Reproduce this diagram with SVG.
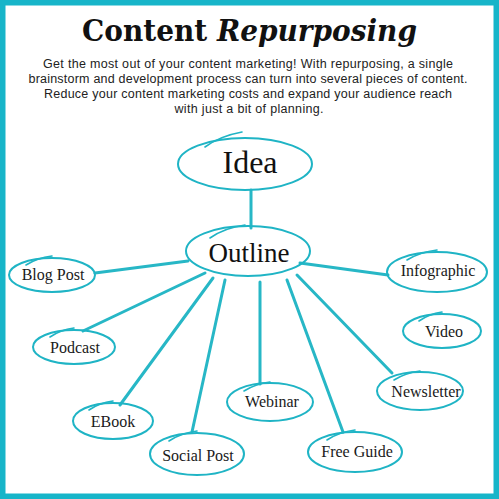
<svg xmlns="http://www.w3.org/2000/svg" width="499" height="499" viewBox="0 0 499 499">
<style>
.frame{fill:#fff;stroke:#17b5c9;stroke-width:11}
.title{font-family:"DejaVu Serif",serif;font-weight:bold;font-size:29px;fill:#111}
.body{font-family:"Liberation Sans",Arial,sans-serif;font-size:12.5px;fill:#222;text-anchor:middle}
.oval{fill:none;stroke:#1fb4c5;stroke-width:2}
.sw{fill:none;stroke:#1fb4c5;stroke-width:1.6;stroke-linecap:round}
.lbl{font-family:"Liberation Serif",serif;font-size:16px;fill:#1a1a1a;text-anchor:middle}
.big{font-family:"Liberation Serif",serif;fill:#111;text-anchor:middle}
.con line{stroke:#27b7c6;stroke-width:3;stroke-linecap:round}
</style>
<rect class="frame" x="0" y="0" width="499" height="499"/>
<text class="title" x="249.5" y="41" text-anchor="middle" textLength="335" lengthAdjust="spacingAndGlyphs"><tspan>Content </tspan><tspan font-style="italic">Repurposing</tspan></text>
<text class="body" x="248" y="68" textLength="410">Get the most out of your content marketing! With repurposing, a single</text>
<text class="body" x="248" y="83" textLength="439">brainstorm and development process can turn into several pieces of content.</text>
<text class="body" x="248" y="98" textLength="408">Reduce your content marketing costs and expand your audience reach</text>
<text class="body" x="249" y="113" textLength="149">with just a bit of planning.</text>
<g class="con">
<line x1="251" y1="190" x2="251" y2="228"/>
<line x1="95" y1="273" x2="188" y2="261"/>
<line x1="83" y1="331" x2="205" y2="273"/>
<line x1="120" y1="405" x2="213" y2="278"/>
<line x1="192" y1="432" x2="225" y2="280"/>
<line x1="260" y1="384" x2="260" y2="282"/>
<line x1="343" y1="432" x2="287" y2="280"/>
<line x1="392" y1="373" x2="297" y2="275"/>
<line x1="388" y1="275" x2="300" y2="263"/>
</g>
<g id="idea"><ellipse class="oval" cx="245" cy="164" rx="67" ry="26"/><path class="sw" d="M205 147 Q220 136 242 132"/><text class="big" x="250" y="173" font-size="32">Idea</text></g>
<g id="outline"><ellipse class="oval" cx="248" cy="251" rx="62" ry="25"/><path class="sw" d="M210 238 Q224 228 245 225"/><text class="big" x="249" y="262" font-size="27">Outline</text></g>
<g id="blog-post"><ellipse class="oval" cx="52" cy="275" rx="43" ry="17"/><path class="sw" d="M26 265 Q37 258 52 256"/><text class="lbl" x="53" y="280">Blog Post</text></g>
<g id="podcast"><ellipse class="oval" cx="74" cy="347" rx="41" ry="17"/><path class="sw" d="M50 337 Q60 330 74 328"/><text class="lbl" x="75" y="353">Podcast</text></g>
<g id="ebook"><ellipse class="oval" cx="113" cy="421" rx="40" ry="18"/><path class="sw" d="M89 410 Q99 403 113 401"/><text class="lbl" x="113" y="427">EBook</text></g>
<g id="social-post"><ellipse class="oval" cx="197" cy="454" rx="47" ry="21"/><path class="sw" d="M169 441 Q181 433 197 431"/><text class="lbl" x="198" y="461">Social Post</text></g>
<g id="webinar"><ellipse class="oval" cx="270" cy="402" rx="43" ry="19"/><path class="sw" d="M244 391 Q255 384 270 382"/><text class="lbl" x="272" y="407">Webinar</text></g>
<g id="free-guide"><ellipse class="oval" cx="355" cy="452" rx="47" ry="20"/><path class="sw" d="M327 440 Q339 432 355 430"/><text class="lbl" x="357" y="457">Free Guide</text></g>
<g id="newsletter"><ellipse class="oval" cx="420" cy="391" rx="43" ry="19"/><path class="sw" d="M394 380 Q405 373 420 371"/><text class="lbl" x="426" y="397">Newsletter</text></g>
<g id="infographic"><ellipse class="oval" cx="437" cy="272" rx="50" ry="20"/><path class="sw" d="M407 260 Q420 252 437 250"/><text class="lbl" x="438" y="276">Infographic</text></g>
<g id="video"><ellipse class="oval" cx="442" cy="331" rx="39" ry="17"/><path class="sw" d="M419 321 Q429 314 442 312"/><text class="lbl" x="444" y="337">Video</text></g>
</svg>
